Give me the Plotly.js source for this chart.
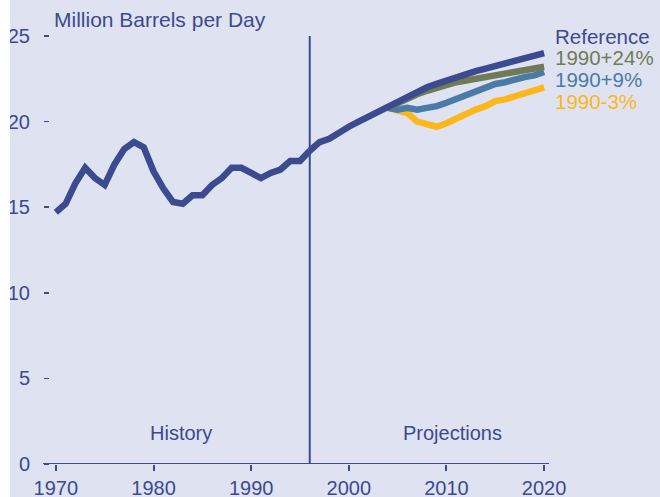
<!DOCTYPE html>
<html>
<head>
<meta charset="utf-8">
<script src="https://cdn.plot.ly/plotly-3.0.1.min.js"></script>
<style>
html,body{margin:0;padding:0;background:#ffffff;}
#chart{position:absolute;left:10px;top:0;width:650px;height:497px;}
</style>
</head>
<body>
<div id="chart"></div>
<script>
// History 1970-1996
const histYears = [1970,1971,1972,1973,1974,1975,1976,1977,1978,1979,1980,1981,1982,1983,1984,1985,1986,1987,1988,1989,1990,1991,1992,1993,1994,1995,1996];
const histValues = [14.7,15.2,16.4,17.3,16.7,16.3,17.5,18.4,18.8,18.5,17.1,16.1,15.3,15.2,15.7,15.7,16.3,16.7,17.3,17.3,17.0,16.7,17.0,17.2,17.7,17.7,18.3];

// Reference projection 1996-2020
const refYears = [1996,1997,1998,1999,2000,2001,2002,2003,2004,2005,2006,2007,2008,2009,2010,2011,2012,2013,2014,2015,2016,2017,2018,2019,2020];
const refValues = [18.3,18.8,19.0,19.4,19.7,20.0,20.3,20.55,20.8,21.15,21.5,21.75,22.0,22.2,22.4,22.6,22.8,22.95,23.1,23.25,23.4,23.5,23.7,23.8,24.0];

// Alternative cases 2004-2020
const altYears = [2004,2005,2006,2007,2008,2009,2010,2011,2012,2013,2014,2015,2016,2017,2018,2019,2020];
const plus24Values = [20.8,21.1,21.3,21.6,21.8,22.0,22.1,22.3,22.4,22.5,22.6,22.7,22.8,22.9,23.0,23.1,23.2];
const plus9Values  = [20.8,20.7,20.8,20.7,20.8,20.9,21.1,21.3,21.5,21.7,22.0,22.2,22.3,22.5,22.6,22.7,22.9];
const minus3Values = [20.8,20.6,20.5,20.0,19.8,19.7,19.9,20.2,20.5,20.7,20.9,21.2,21.3,21.5,21.6,21.8,22.0];

const seriesNames = ["Reference","1990+24%","1990+9%","1990-3%"];
const xTickVals = [1970,1980,1990,2000,2010,2020];
const yTickVals = [0,5,10,15,20,25];
const yAxisLabel = "Million Barrels per Day";
const periodLabels = ["History","Projections"];
const dividerYear = 1996;

const navy = "#3c4a8f";
const olive = "#6f7b57";
const steel = "#4a7ba6";
const gold = "#fbb71b";
const bg = "#dfe3f1";
const font = "Liberation Sans, Arial, sans-serif";

const traces = [
  {x: altYears, y: minus3Values, mode:"lines", line:{color:gold,width:6.5}, name:seriesNames[3]},
  {x: altYears, y: plus9Values, mode:"lines", line:{color:steel,width:6.5}, name:seriesNames[2]},
  {x: altYears, y: plus24Values, mode:"lines", line:{color:olive,width:6.5}, name:seriesNames[1]},
  {x: refYears, y: refValues, mode:"lines", line:{color:navy,width:6.5}, name:seriesNames[0]},
  {x: histYears, y: histValues, mode:"lines", line:{color:navy,width:6.5}, name:"History"}
];

function py(px){ return (464.5 - px) / 428; }

const layout = {
  width: 650, height: 497,
  margin: {l:40, r:111, t:36, b:33, pad:0},
  paper_bgcolor: bg, plot_bgcolor: bg,
  showlegend: false,
  font: {family: font, color: navy, size: 20},
  xaxis: {
    range: [1969.4, 2020.5], tickvals: xTickVals, ticks: "outside", ticklen: 6, tickwidth: 2,
    tickcolor: navy, showline: false, showgrid: false, zeroline: false,
    tickfont: {size: 20, color: navy}, ticklabelstandoff: 0
  },
  yaxis: {
    range: [0, 25], tickvals: yTickVals, ticks: "outside", ticklen: 5, tickwidth: 1.5,
    tickcolor: navy, showline: false, showgrid: false, zeroline: false,
    tickfont: {size: 20, color: navy}, ticklabelstandoff: 10
  },
  shapes: [
    {type:"line", xref:"x", yref:"y", x0:dividerYear, x1:dividerYear, y0:0, y1:25, line:{color:navy,width:2}},
    {type:"line", xref:"paper", yref:"y", x0:-0.014, x1:1, y0:0, y1:0, line:{color:navy,width:2}}
  ],
  annotations: [
    {xref:"paper", yref:"paper", x:(52-50)/499, y:py(20), xanchor:"left", yanchor:"middle", text:yAxisLabel, showarrow:false, font:{size:21,color:navy}},
    {xref:"x", yref:"paper", x:1982.8, y:py(433), xanchor:"center", yanchor:"middle", text:periodLabels[0], showarrow:false, font:{size:20,color:navy}},
    {xref:"x", yref:"paper", x:2010.6, y:py(433), xanchor:"center", yanchor:"middle", text:periodLabels[1], showarrow:false, font:{size:20,color:navy}},
    {xref:"paper", yref:"paper", x:(553-50)/499, y:py(37), xanchor:"left", yanchor:"middle", text:seriesNames[0], showarrow:false, font:{size:20.5,color:navy}},
    {xref:"paper", yref:"paper", x:(553-50)/499, y:py(57.5), xanchor:"left", yanchor:"middle", text:seriesNames[1], showarrow:false, font:{size:20.5,color:olive}},
    {xref:"paper", yref:"paper", x:(553-50)/499, y:py(79.5), xanchor:"left", yanchor:"middle", text:seriesNames[2], showarrow:false, font:{size:20.5,color:steel}},
    {xref:"paper", yref:"paper", x:(553-50)/499, y:py(102), xanchor:"left", yanchor:"middle", text:seriesNames[3], showarrow:false, font:{size:20.5,color:gold}}
  ]
};

Plotly.newPlot("chart", traces, layout, {displayModeBar:false, staticPlot:true});
</script>
</body>
</html>
